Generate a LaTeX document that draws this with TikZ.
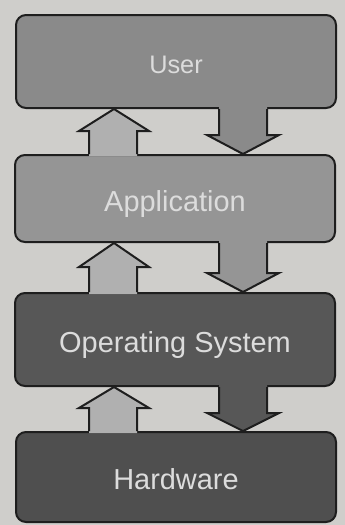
\documentclass[tikz,border=0pt]{standalone}
\usepackage{fontspec}
\setmainfont{Liberation Sans}
\usetikzlibrary{calc}

\definecolor{paper}{HTML}{CFCECB}
\definecolor{usergray}{HTML}{8A8A8A}
\definecolor{appgray}{HTML}{959595}
\definecolor{osgray}{HTML}{575757}
\definecolor{hwgray}{HTML}{4F4F4F}
\definecolor{upgray}{HTML}{B0B0B0}
\definecolor{edgegray}{HTML}{1E1E1E}
\definecolor{labelgray}{HTML}{DCDCDC}

\tikzset{every picture/.style={line width=0.75pt}}
\tikzset{
  layer/.style={draw=edgegray, line width=1.5pt, rounded corners=7.5pt,
    minimum width=240pt, inner sep=0pt, text=labelgray,
    text height=19pt, text depth=0pt, font=\fontsize{21.7}{25}\selectfont},
  arrowline/.style={draw=edgegray, line width=1.5pt, line join=miter}
}

\begin{document}
\begin{tikzpicture}[x=0.75pt,y=0.75pt,yscale=-1,xscale=1]
% Background
\fill[paper] (0,0) rectangle (345,525);
\useasboundingbox (0,0) rectangle (345,525);

% Layers
\node[layer, fill=usergray, minimum height=69.75pt, text height=18pt, font=\fontsize{19}{23}\selectfont] (user) at (176,61.5) {User};
\node[layer, fill=appgray, minimum height=65.25pt] (app) at (175,198.5) {Application};
\node[layer, fill=osgray, minimum height=69.75pt] (os) at (175,339.5) {Operating System};
\node[layer, fill=hwgray, minimum height=67.5pt] (hw) at (176,477) {Hardware};

% Up Arrow: app -> user
\fill[upgray] ($(app.north west)+(75,2.2)$) |- ($(user.south west)+(64,22)$) -- ($(user.south west)+(99,0)$) -- ($(user.south west)+(134,22)$) -| ($(app.north west)+(123,2.2)$) -- cycle;
\draw[arrowline] ($(app.north west)+(75,0)$) |- ($(user.south west)+(64,22)$) -- ($(user.south west)+(99,0)$) -- ($(user.south west)+(134,22)$) -| ($(app.north west)+(123,0)$);
% Down Arrow: user -> app
\fill[usergray] ($(user.south west)+(204,-2.2)$) |- ($(app.north west)+(193,-19)$) -- ($(app.north west)+(229,0)$) -- ($(app.north west)+(265,-19)$) -| ($(user.south west)+(252,-2.2)$) -- cycle;
\draw[arrowline] ($(user.south west)+(204,0)$) |- ($(app.north west)+(193,-19)$) -- ($(app.north west)+(229,0)$) -- ($(app.north west)+(265,-19)$) -| ($(user.south west)+(252,0)$);

% Up Arrow: os -> app
\fill[upgray] ($(os.north west)+(75,2.2)$) |- ($(app.south west)+(65,24)$) -- ($(app.south west)+(100,0)$) -- ($(app.south west)+(135,24)$) -| ($(os.north west)+(123,2.2)$) -- cycle;
\draw[arrowline] ($(os.north west)+(75,0)$) |- ($(app.south west)+(65,24)$) -- ($(app.south west)+(100,0)$) -- ($(app.south west)+(135,24)$) -| ($(os.north west)+(123,0)$);
% Down Arrow: app -> os
\fill[appgray] ($(app.south west)+(205,-2.2)$) |- ($(os.north west)+(193,-19)$) -- ($(os.north west)+(229,0)$) -- ($(os.north west)+(265,-19)$) -| ($(app.south west)+(253,-2.2)$) -- cycle;
\draw[arrowline] ($(app.south west)+(205,0)$) |- ($(os.north west)+(193,-19)$) -- ($(os.north west)+(229,0)$) -- ($(os.north west)+(265,-19)$) -| ($(app.south west)+(253,0)$);

% Up Arrow: hw -> os
\fill[upgray] ($(hw.north west)+(74,2.2)$) |- ($(os.south west)+(65,21)$) -- ($(os.south west)+(100,0)$) -- ($(os.south west)+(135,21)$) -| ($(hw.north west)+(122,2.2)$) -- cycle;
\draw[arrowline] ($(hw.north west)+(74,0)$) |- ($(os.south west)+(65,21)$) -- ($(os.south west)+(100,0)$) -- ($(os.south west)+(135,21)$) -| ($(hw.north west)+(122,0)$);
% Down Arrow: os -> hw
\fill[osgray] ($(os.south west)+(205,-2.2)$) |- ($(hw.north west)+(192,-18)$) -- ($(hw.north west)+(228,0)$) -- ($(hw.north west)+(264,-18)$) -| ($(os.south west)+(253,-2.2)$) -- cycle;
\draw[arrowline] ($(os.south west)+(205,0)$) |- ($(hw.north west)+(192,-18)$) -- ($(hw.north west)+(228,0)$) -- ($(hw.north west)+(264,-18)$) -| ($(os.south west)+(253,0)$);
\end{tikzpicture}
\end{document}
